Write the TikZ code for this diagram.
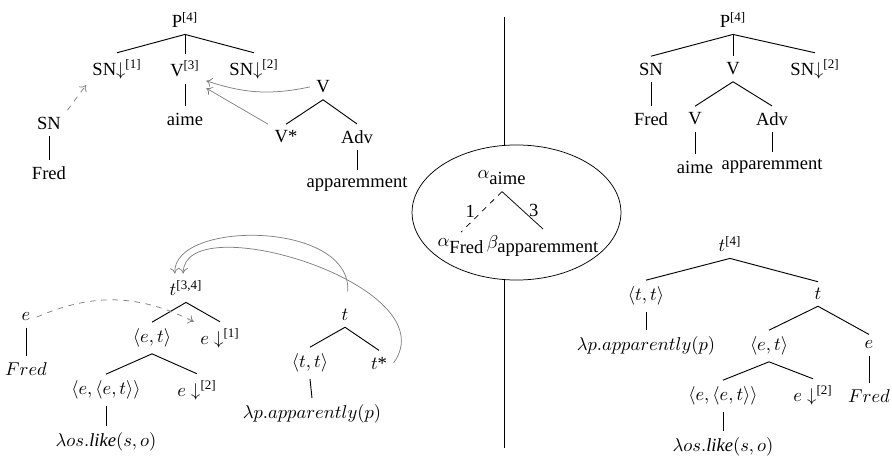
\documentclass[tikz,border=0pt]{standalone}
\usepackage{amsmath,amssymb}
\usepackage{fontspec}
\setmainfont{Liberation Serif}
\usepackage{tikz}
\usetikzlibrary{arrows.meta,shapes.geometric,positioning}

\begin{document}
\begin{tikzpicture}[
    x=0.539pt, y=0.539pt,
    branch/.style={line width=0.5pt},
    link/.style={gray, -{To[length=3pt,width=5pt]}},
    subst/.style={link, dashed}
]
    \useasboundingbox (0,0) rectangle (892,-457);

    % arbres elementaires (haut gauche)
    \node (pl) at (185,-20) {P\textsuperscript{[4]}};
    \node (snsub1) at (117,-69) {SN$\downarrow$\textsuperscript{[1]}};
    \node (vl) at (185,-69) {V\textsuperscript{[3]}};
    \node (snsub2) at (254,-69) {SN$\downarrow$\textsuperscript{[2]}};
    \node (aimel) at (185,-119) {aime};
    \node (snfred) at (49,-123) {SN};
    \node (fredl) at (49,-173) {Fred};
    \node (vaux) at (323,-87) {V};
    \node (vfoot) at (286,-137) {V*};
    \node (advl) at (357,-137) {Adv};
    \node (appl) at (357,-184) {apparemment};

    \draw[branch] (pl.south) -- (snsub1.north);
    \draw[branch] (pl.south) -- (vl.north);
    \draw[branch] (pl.south) -- (snsub2.north);
    \draw[branch] (vl.south) -- (aimel.north);
    \draw[branch] (snfred.south) -- (fredl.north);
    \draw[branch] (vaux.south) -- (vfoot.north);
    \draw[branch] (vaux.south) -- (advl.north);
    \draw[branch] (advl.south) -- (appl.north);

    \draw[subst] (snfred.north east) -- (snsub1.south west);
    \draw[link] (vaux.west) to[bend left=15] ([yshift=1.5pt]vl.south east);
    \draw[link] (vfoot.north west) -- ([yshift=-2.5pt]vl.south east);

    % arbre derive (haut droite)
    \node (pr) at (733,-20) {P\textsuperscript{[4]}};
    \node (snr) at (651,-69) {SN};
    \node (vr) at (733,-69) {V};
    \node (snsubr) at (815,-69) {SN$\downarrow$\textsuperscript{[2]}};
    \node (fredr) at (651,-119) {Fred};
    \node (vr2) at (695,-119) {V};
    \node (advr) at (772,-119) {Adv};
    \node (aimer) at (695,-167) {aime};
    \node (appr) at (772,-166) {apparemment};

    \draw[branch] (pr.south) -- (snr.north);
    \draw[branch] (pr.south) -- (vr.north);
    \draw[branch] (pr.south) -- (snsubr.north);
    \draw[branch] (snr.south) -- (fredr.north);
    \draw[branch] (vr.south) -- (vr2.north);
    \draw[branch] (vr.south) -- (advr.north);
    \draw[branch] (vr2.south) -- (aimer.north);
    \draw[branch] (advr.south) -- (appr.north);

    % arbre de derivation
    \coordinate (septop) at (504,-17);
    \coordinate (sepbot) at (504,-448);
    \node[draw, ellipse, inner sep=0pt, minimum width=112.6pt, minimum height=72.8pt] (deriv) at (516.5,-212.5) {};
    \draw (septop) -- (septop |- deriv.north);
    \draw (sepbot) -- (sepbot |- deriv.south);

    \node (aimeroot) at (502,-178) {$\alpha_{\mbox{aime}}$};
    \node (fredleaf) at (461,-246) {$\alpha_{\mbox{Fred}}$};
    \node (appleaf) at (543,-246) {$\beta_{\mbox{apparemment}}$};
    \draw[dashed] (aimeroot.south) -- node[left] {1} (fredleaf.north);
    \draw (aimeroot.south) -- node[right] {3} (appleaf.north);

    % arbres semantiques (bas gauche)
    \node (tl) at (186,-288) {$t$\textsuperscript{[3,4]}};
    \node (etl) at (152,-338) {$\langle e,t\rangle$};
    \node (esub1) at (220,-338) {$e\downarrow$\textsuperscript{[1]}};
    \node (eetl) at (106,-390) {$\langle e,\langle e,t\rangle\rangle$};
    \node (esub2) at (197,-390) {$e\downarrow$\textsuperscript{[2]}};
    \node (likel) at (106,-442) {$\lambda os.\mathit{like}(s,o)$};
    \node (el) at (26,-317) {$e$};
    \node (fredml) at (26,-369) {$Fred$};
    \node (tadv) at (345,-315) {$t$};
    \node (ttl) at (310,-363) {$\langle t,t\rangle$};
    \node (tstar) at (379,-363) {$t$*};
    \node (appml) at (312,-414) {$\lambda p.apparently(p)$};

    \draw[branch] (tl.south) -- (etl.north);
    \draw[branch] (tl.south) -- (esub1.north);
    \draw[branch] (etl.south) -- (eetl.north);
    \draw[branch] (etl.south) -- (esub2.north);
    \draw[branch] (eetl.south) -- (likel.north);
    \draw[branch] (el.south) -- (fredml.north);
    \draw[branch] (tadv.south) -- (ttl.north);
    \draw[branch] (tadv.south) -- (tstar.north);
    \draw[branch] (ttl.south) -- (appml.north);

    \draw[subst] (el.east) to[bend left=25] (esub1.north west);
    \draw[link] ([shift={(1.5pt,6pt)}]tadv.north) .. controls (352,-220) and (172,-220) .. ([xshift=-6pt]tl.north);
    \draw[link] (tstar.east) .. controls (450,-285) and (183,-205) .. ([xshift=-1.5pt]tl.north);

    % arbre semantique derive (bas droite)
    \node (tr) at (730,-244) {$t$\textsuperscript{[4]}};
    \node (ttr) at (646,-296) {$\langle t,t\rangle$};
    \node (tr2) at (818,-294) {$t$};
    \node (appmr) at (646,-346) {$\lambda p.apparently(p)$};
    \node (etr) at (769,-346) {$\langle e,t\rangle$};
    \node (er) at (869,-345) {$e$};
    \node (fredmr) at (869,-396) {$Fred$};
    \node (eetr) at (723,-396) {$\langle e,\langle e,t\rangle\rangle$};
    \node (esubr) at (813,-395) {$e\downarrow$\textsuperscript{[2]}};
    \node (liker) at (723,-447) {$\lambda os.\mathit{like}(s,o)$};

    \draw[branch] (tr.south) -- (ttr.north);
    \draw[branch] (tr.south) -- (tr2.north);
    \draw[branch] (ttr.south) -- (appmr.north);
    \draw[branch] (tr2.south) -- (etr.north);
    \draw[branch] (tr2.south) -- (er.north);
    \draw[branch] (er.south) -- (fredmr.north);
    \draw[branch] (etr.south) -- (eetr.north);
    \draw[branch] (etr.south) -- (esubr.north);
    \draw[branch] (eetr.south) -- (liker.north);
\end{tikzpicture}
\end{document}
